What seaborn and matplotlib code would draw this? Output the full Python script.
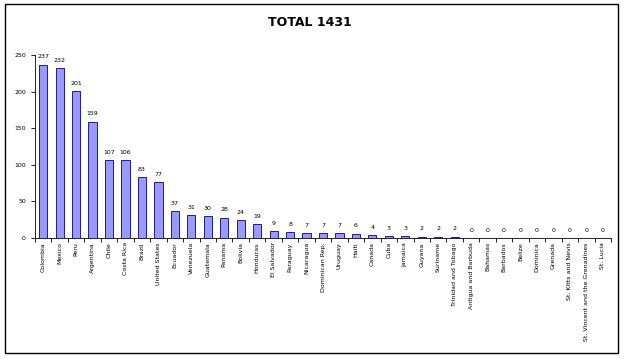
import numpy as np
import pandas as pd
import seaborn as sns
import matplotlib.pyplot as plt
from matplotlib.patches import Rectangle

countries = ['Colombia', 'Mexico', 'Peru', 'Argentina', 'Chile', 'Costa Rica', 'Brazil',
             'United States', 'Ecuador', 'Venezuela', 'Guatemala', 'Panama', 'Bolivia',
             'Honduras', 'El Salvador', 'Paraguay', 'Nicaragua', 'Dominican Rep.', 'Uruguay',
             'Haiti', 'Canada', 'Cuba', 'Jamaica', 'Guyana', 'Suriname', 'Trinidad and Tobago',
             'Antigua and Barbuda', 'Bahamas', 'Barbados', 'Belize', 'Dominica', 'Grenada',
             'St. Kitts and Nevis', 'St. Vincent and the Grenadines', 'St. Lucia']
counts = [237, 232, 201, 159, 107, 106, 83, 77, 37, 31, 30, 28, 24, 19, 9, 8, 7, 7, 7, 6,
          4, 3, 3, 2, 2, 2, 0, 0, 0, 0, 0, 0, 0, 0, 0]

data = pd.DataFrame({'country': countries, 'count': counts})

sns.set_style('white')
plt.rcParams['font.family'] = ['DejaVu Sans']
plt.rcParams['text.color'] = 'black'
plt.rcParams['xtick.color'] = 'black'
plt.rcParams['ytick.color'] = 'black'

fig = plt.figure(figsize=(6.24, 3.59), dpi=100)
ax = fig.add_axes([35 / 624, 1 - 238 / 359, (611 - 35) / 624, (238 - 55) / 359])

sns.barplot(x='country', y='count', data=data, color='#9999FF', edgecolor='#000080',
            linewidth=0.6, width=0.5, saturation=1, ax=ax)

# value labels above bars
for i, v in enumerate(counts):
    ax.text(i, v + 7, str(v), ha='center', va='bottom', fontsize=4.5)

ax.set_ylim(0, 250)
ax.set_xlim(-0.5, len(countries) - 0.5)
ax.set_yticks([0, 50, 100, 150, 200, 250])
ax.tick_params(axis='y', labelsize=4.5, length=3, width=0.6, direction='out', left=True)
ax.set_xticks(range(len(countries)))
ax.set_xticklabels(countries, rotation=90, fontsize=4.5)
ax.tick_params(axis='x', which='major', length=0, pad=3)
ax.set_xticks(np.arange(-0.5, len(countries), 1), minor=True)
ax.tick_params(axis='x', which='minor', length=3, width=0.6, direction='out', bottom=True)
ax.set_xlabel('')
ax.set_ylabel('')
for s in ['top', 'right']:
    ax.spines[s].set_visible(False)
for s in ['left', 'bottom']:
    ax.spines[s].set_linewidth(0.6)
    ax.spines[s].set_color('black')

fig.text(310 / 624, 1 - 22 / 359, 'TOTAL 1431', ha='center', va='center', fontsize=9,
         fontweight='bold', color='black')
fig.patches.append(Rectangle((5 / 624, 1 - 353 / 359), 613 / 624, 349 / 359,
                             transform=fig.transFigure, fill=False, edgecolor='black',
                             linewidth=1))

plt.savefig('out.png', dpi=100)
